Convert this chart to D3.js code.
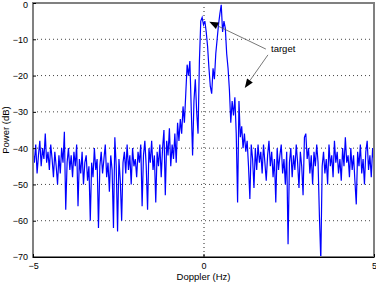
<!DOCTYPE html>
<html lang="en">
<head>
<meta charset="UTF-8">
<script src="https://cdn.jsdelivr.net/npm/d3@7/dist/d3.min.js"></script>
<title>Doppler spectrum</title>
<style>
  body { margin: 0; background: #fff; }
  text { font-family: "Liberation Sans", Arial, sans-serif; }
</style>
</head>
<body>
<script>
    // spectrum, one value every 0.04 Hz from -5 to 5 Hz (dB)
    let fStart = -5, fStep = 0.04;
    let power = [
        -41,-44,-39,-47,-42,-38,-45,-40,-43,-36,-44,-41,-46,-39,-43,-48,-41,-45,-50,-42,-47,-40,-44,-35.5,-57,
        -44,-40,-46,-42,-48,-41,-45,-39,-56,-43,-47,-41,-50,-44,-42,-49,-45,-60,-44,-48,-40,-46,-43,-62,-45,
        -41,-47,-43,-39,-48,-44,-52,-42,-46,-62,-37,-45,-63,-43,-49,-60,-44,-41,-47,-39,-46,-42,-50,-40,-45,
        -43,-48,-41,-44,-39,-56,-42,-38,-45,-57,-40,-44,-38,-46,-42,-55,-41,-45,-39,-48,-40,-35,-53,-38,-42,
        -34.5,-45,-39,-43,-36,-44,-33,-38,-32,-36,-28.5,-33,-25,-17,-20,-16,-29,-42,-27,-21,-30,-36,-16,-5,-4,
        -6,-5,-8,-12,-18,-23,-25,-18,-21,-14,-10,-6,-3,-0.5,-8,-5,-7,-14,-18,-24,-33,-27,-31,-26,-36,
        -55,-27,-37,-34,-40,-36,-41,-38,-45,-54,-39,-43,-51,-40,-46,-39,-44,-41,-47,-39,-44,-49,-42,-38,-45,
        -41,-48,-43,-55,-40,-46,-42,-39,-47,-43,-50,-41,-66.5,-44,-40,-48,-42,-46,-39,-44,-51,-41,-45,-53,-37,
        -36,-43,-40,-47,-42,-50,-41,-45,-39,-44,-59,-71,-45,-41,-47,-43,-50,-39,-45,-42,-48,-38,-44,-41,-47,
        -43,-49,-40,-45,-37,-44,-42,-48,-40,-46,-42,-49,-55.5,-41,-45,-39,-47,-43,-50,-41,-38,-46,-42,-48,-40,-44
    ];
    let xTicks = [-5, 0, 5];
    let yTicks = [0, -10, -20, -30, -40, -50, -60, -70];
    let xGrid = [0];
    let yGrid = [-10, -20, -30, -40, -50, -60];

    // annotation "target" (data coords): text position, arrow tails and tips
    let labelPos = [1.98, -13.6];
    let arrows = [
        {from: [1.83, -12.7], to: [0.17, -5.2]},
        {from: [1.89, -14.3], to: [1.21, -23.4]}
    ];

    let width = 376, height = 283;
    let margin = {left: 33, top: 3, right: 2, bottom: 26};

    let svg = d3.select("body").append("svg")
        .attr("width", width)
        .attr("height", height);

    let x = d3.scaleLinear().domain([-5, 5]).range([margin.left, width - margin.right]);
    let y = d3.scaleLinear().domain([-70, 0]).range([height - margin.bottom, margin.top]);

    svg.append("defs").append("clipPath").attr("id", "clip")
        .append("rect")
        .attr("x", x(-5)).attr("y", y(0))
        .attr("width", x(5) - x(-5)).attr("height", y(-70) - y(0));

    // grid
    svg.selectAll(".hgrid").data(yGrid).enter().append("line")
        .attr("x1", x(-5)).attr("x2", x(5))
        .attr("y1", d => y(d)).attr("y2", d => y(d))
        .attr("stroke", "#444").attr("stroke-width", 1)
        .attr("stroke-dasharray", "1,3");
    svg.selectAll(".vgrid").data(xGrid).enter().append("line")
        .attr("x1", d => x(d) + 0.5).attr("x2", d => x(d) + 0.5)
        .attr("y1", y(0)).attr("y2", y(-70))
        .attr("stroke", "#222").attr("stroke-width", 1)
        .attr("stroke-dasharray", "1,3");

    // spectrum line
    let line = d3.line()
        .x((d, i) => x(fStart + i * fStep))
        .y(d => y(d));
    svg.append("path")
        .datum(power)
        .attr("clip-path", "url(#clip)")
        .attr("fill", "none")
        .attr("stroke", "#0000ff")
        .attr("stroke-width", 1.2)
        .attr("stroke-linejoin", "miter")
        .attr("d", line);

    // box
    svg.append("rect")
        .attr("x", x(-5)).attr("y", y(0))
        .attr("width", x(5) - x(-5)).attr("height", y(-70) - y(0))
        .attr("fill", "none").attr("stroke", "#808080").attr("stroke-width", 2);
    svg.append("line")
        .attr("x1", x(-5)).attr("x2", x(5))
        .attr("y1", y(-70) + 0.5).attr("y2", y(-70) + 0.5)
        .attr("stroke", "#000").attr("stroke-width", 1);

    // axes (inward ticks, MATLAB style)
    let xAxis = d3.axisBottom(x).tickValues(xTicks).tickSizeInner(-3).tickSizeOuter(0).tickPadding(6);
    let yAxis = d3.axisLeft(y).tickValues(yTicks).tickSizeInner(-3).tickSizeOuter(0).tickPadding(5);
    let gx = svg.append("g").attr("transform", "translate(0," + y(-70) + ")").call(xAxis);
    let gy = svg.append("g").attr("transform", "translate(" + x(-5) + ",0)").call(yAxis);
    [gx, gy].forEach(g => {
        g.select(".domain").remove();
        g.selectAll("text").attr("font-size", 9).attr("fill", "#000")
            .attr("font-family", "Liberation Sans, Arial, sans-serif");
        g.selectAll(".tick line").attr("stroke", "#000");
    });
    // keep the top "0" label inside the window
    gy.selectAll(".tick text").filter(d => d === 0).attr("dy", "0.45em");

    // axis labels
    svg.append("text")
        .attr("x", (x(-5) + x(5)) / 2).attr("y", 280)
        .attr("text-anchor", "middle").attr("font-size", 9.5)
        .text("Doppler (Hz)");
    svg.append("text")
        .attr("transform", "translate(9," + (y(0) + y(-70)) / 2 + ") rotate(-90)")
        .attr("text-anchor", "middle").attr("font-size", 9.5)
        .text("Power (dB)");

    // annotation
    arrows.forEach(a => {
        let x0 = x(a.from[0]), y0 = y(a.from[1]);
        let x1 = x(a.to[0]), y1 = y(a.to[1]);
        let ang = Math.atan2(y1 - y0, x1 - x0);
        let len = 9, half = 3.5;
        let bx = x1 - len * Math.cos(ang), by = y1 - len * Math.sin(ang);
        svg.append("line")
            .attr("x1", x0).attr("y1", y0).attr("x2", bx).attr("y2", by)
            .attr("stroke", "#555").attr("stroke-width", 0.8);
        let p1 = [bx + half * Math.sin(ang), by - half * Math.cos(ang)];
        let p2 = [bx - half * Math.sin(ang), by + half * Math.cos(ang)];
        svg.append("path")
            .attr("d", "M" + x1 + "," + y1 + "L" + p1 + "L" + p2 + "Z")
            .attr("fill", "#000");
    });
    svg.append("text")
        .attr("x", x(labelPos[0])).attr("y", y(labelPos[1]))
        .attr("font-size", 9.5)
        .text("target");
</script>
</body>
</html>
